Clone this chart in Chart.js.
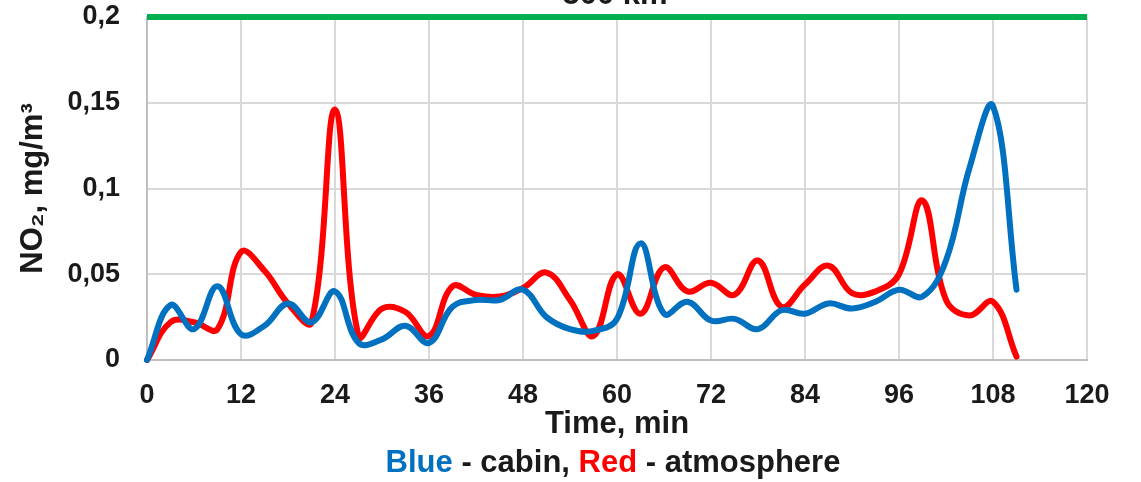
<!DOCTYPE html>
<html>
<head>
<meta charset="utf-8">
<script src="https://cdn.jsdelivr.net/npm/chart.js@4.4.0/dist/chart.umd.min.js"></script>
<style>
  html, body { margin: 0; padding: 0; background: #fff; }
  #wrap { width: 1141px; height: 482px; position: relative; overflow: hidden; }
</style>
</head>
<body>
<div id="wrap"><canvas id="chart" width="1141" height="482"></canvas></div>
<script>
// NO2 readings, every 3 min
const times = [0, 3, 6, 9, 12, 15, 18, 21, 24, 27, 30, 33, 36, 39, 42, 45, 48, 51, 54,
  57, 60, 63, 66, 69, 72, 75, 78, 81, 84, 87, 90, 93, 96, 99, 102, 105, 108, 111];
const cabin = [0, 0.032, 0.018, 0.043, 0.015, 0.02, 0.033, 0.022, 0.04, 0.01, 0.012, 0.02, 0.01,
  0.031, 0.035, 0.035, 0.041, 0.025, 0.018, 0.017, 0.024, 0.068, 0.027, 0.034, 0.023, 0.024,
  0.018, 0.029, 0.027, 0.033, 0.03, 0.034, 0.041, 0.037, 0.058, 0.112, 0.148, 0.041];
const atmosphere = [0, 0.022, 0.022, 0.018, 0.063, 0.052, 0.033, 0.022, 0.146, 0.014, 0.03, 0.028,
  0.014, 0.043, 0.038, 0.037, 0.042, 0.051, 0.035, 0.014, 0.05, 0.027, 0.054, 0.04, 0.045, 0.038,
  0.058, 0.031, 0.044, 0.055, 0.039, 0.04, 0.05, 0.093, 0.035, 0.026, 0.034, 0.002];
// limit line
const limitX = [0, 120];
const limitY = [0.2, 0.2];

const xTicks = [0, 12, 24, 36, 48, 60, 72, 84, 96, 108, 120];
const yTicks = [0, 0.05, 0.1, 0.15, 0.2];
const chartTitle = '500 km';

const FONT = '"Liberation Sans", Arial, sans-serif';
const TEXT = '#1a1a1a';

const toPoints = (xs, ys) => xs.map((x, i) => ({ x: x, y: ys[i] }));

// title (cut off at the top) and coloured caption under the axis title
const extraText = {
  id: 'extraText',
  afterDraw(c) {
    const ctx = c.ctx;
    const mid = (c.chartArea.left + c.chartArea.right) / 2;
    ctx.save();
    ctx.font = 'bold 31px ' + FONT;
    ctx.fillStyle = TEXT;
    ctx.textAlign = 'center';
    ctx.textBaseline = 'alphabetic';
    ctx.fillText(chartTitle, mid - 2, 4);

    const parts = [['Blue', '#0070C0'], [' - cabin, ', TEXT], ['Red', '#FF0000'], [' - atmosphere', TEXT]];
    const total = parts.reduce((s, p) => s + ctx.measureText(p[0]).width, 0);
    let x = mid - 4 - total / 2;
    ctx.textAlign = 'left';
    ctx.textBaseline = 'middle';
    parts.forEach(p => {
      ctx.fillStyle = p[1];
      ctx.fillText(p[0], x, 463);
      x += ctx.measureText(p[0]).width;
    });
    ctx.restore();
  }
};

const chart = new Chart(document.getElementById('chart').getContext('2d'), {
  type: 'line',
  data: {
    datasets: [
      {
        label: 'limit',
        data: toPoints(limitX, limitY),
        borderColor: '#00B050',
        borderWidth: 6,
        borderCapStyle: 'butt',
        pointRadius: 0,
        clip: false
      },
      {
        label: 'cabin',
        data: toPoints(times, cabin),
        borderColor: '#0070C0',
        borderWidth: 6,
        tension: 0.4,
        borderCapStyle: 'round',
        borderJoinStyle: 'round',
        pointRadius: 0,
        clip: false
      },
      {
        label: 'atmosphere',
        data: toPoints(times, atmosphere),
        borderColor: '#FF0000',
        borderWidth: 6,
        tension: 0.4,
        borderCapStyle: 'round',
        borderJoinStyle: 'round',
        pointRadius: 0,
        clip: false
      }
    ]
  },
  options: {
    responsive: false,
    animation: false,
    layout: { padding: { top: 17, right: 54, bottom: 42, left: 0 } },
    plugins: {
      legend: { display: false },
      tooltip: { enabled: false },
      title: { display: false }
    },
    scales: {
      x: {
        type: 'linear',
        min: 0,
        max: 120,
        afterBuildTicks: s => { s.ticks = xTicks.map(v => ({ value: v })); },
        afterFit: s => { s.height = 80; s.paddingLeft = 0; s.paddingRight = 0; },
        grid: { color: '#d9d9d9', lineWidth: 2, drawTicks: false },
        border: { color: '#bfbfbf', width: 2 },
        ticks: {
          padding: 22,
          color: TEXT,
          font: { family: FONT, size: 27, weight: 'bold', lineHeight: 1 }
        },
        title: {
          display: true,
          text: 'Time, min',
          color: TEXT,
          padding: { top: 2, bottom: 0 },
          font: { family: FONT, size: 31, weight: 'bold', lineHeight: 1 }
        }
      },
      y: {
        min: 0,
        max: 0.2,
        afterBuildTicks: s => { s.ticks = yTicks.map(v => ({ value: v })); },
        afterFit: s => { s.width = 147; s.paddingTop = 0; s.paddingBottom = 0; },
        grid: { color: '#d9d9d9', lineWidth: 2, drawTicks: false },
        border: { color: '#bfbfbf', width: 2 },
        ticks: {
          padding: 27,
          color: TEXT,
          font: { family: FONT, size: 27, weight: 'bold', lineHeight: 1 },
          callback: v => String(Math.round(v * 100) / 100).replace('.', ',')
        },
        title: {
          display: true,
          text: 'NO\u2082, mg/m\u00b3',
          color: TEXT,
          padding: { top: 18, bottom: 0 },
          font: { family: FONT, size: 31, weight: 'bold', lineHeight: 1 }
        }
      }
    }
  },
  plugins: [extraText]
});
</script>
</body>
</html>
